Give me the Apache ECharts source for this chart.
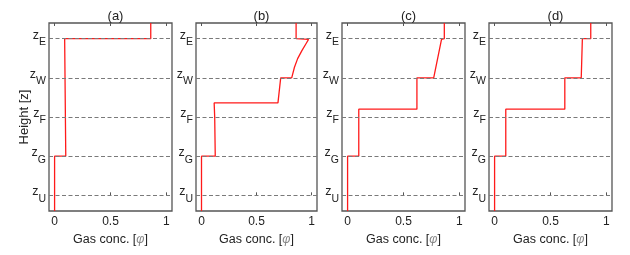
<!DOCTYPE html>
<html><head><meta charset="utf-8">
<script src="https://cdn.jsdelivr.net/npm/echarts@6/dist/echarts.min.js"></script>
<style>html,body{margin:0;padding:0;background:#fff}#c{width:630px;height:255px}</style>
</head><body><div id="c"></div>
<script>
const levelLabels = ['U','G','F','W','E'];
const levelValues = [0,1,2,3,4];
const panelTitles = ['(a)','(b)','(c)','(d)'];
const xTicks = [0,0.5,1];
const profileA = [[0,-0.4],[0,1],[0.1,1],[0.09,4],[0.86,4],[0.86,4.4]];
const profileB = [[0,-0.4],[0,1],[0.125,1],[0.12,2],[0.115,2.36],[0.695,2.36],[0.72,3],[0.82,3],[0.845,3.27],[0.874,3.49],[0.914,3.70],[0.95,3.87],[0.973,3.98],[0.975,4],[0.86,4],[0.86,4.4]];
const profileC = [[0,-0.4],[0,1],[0.1,1],[0.1,2.2],[0.62,2.2],[0.62,3],[0.77,3],[0.84,3.98],[0.865,4],[0.865,4.4]];
const profileD = [[0,-0.4],[0,1],[0.1,1],[0.1,2.2],[0.628,2.2],[0.628,3],[0.775,3],[0.785,4],[0.86,4],[0.86,4.4]];
const profiles = [profileA, profileB, profileC, profileD];

const gridLefts = [49, 196, 342, 489];
const gridWidths = [123, 121, 123, 123];
const FONT = 'Liberation Sans';

const chart = echarts.init(document.getElementById('c'));
const grids = [], xAxes = [], yAxes = [], series = [], titles = [];
profiles.forEach((p, i) => {
  grids.push({left: gridLefts[i], width: gridWidths[i], top: 23, height: 188,
    show: true, borderColor: '#555', borderWidth: 1.3, containLabel: false});
  const xBase = {gridIndex: i, type: 'value', min: -0.05, max: 1.05,
    axisLine: {show: false}, splitLine: {show: false},
    axisTick: {show: true, inside: true, length: 3, lineStyle: {color: '#555'}, customValues: xTicks}};
  xAxes.push(Object.assign({}, xBase, {position: 'bottom',
    axisLabel: {show: true, customValues: xTicks, margin: 5, color: '#222', fontFamily: FONT, fontSize: 12,
      formatter: v => String(Math.round(v*10)/10)},
    name: '{a|Gas conc. [}{b|φ}{a|]}', nameLocation: 'middle', nameGap: 20,
    nameTextStyle: {rich: {a: {fontFamily: FONT, fontSize: 12.5, color: '#222'}, b: {fontFamily: FONT, fontSize: 12.5, color: '#888', fontStyle: 'italic'}}}}));
  xAxes.push(Object.assign({}, xBase, {position: 'top', axisLabel: {show: false}}));
  yAxes.push({gridIndex: i, type: 'value', min: -0.4, max: 4.4,
    axisLine: {show: false}, splitLine: {show: false}, axisTick: {show: false, customValues: levelValues},
    axisLabel: {show: true, customValues: levelValues, margin: 3,
      formatter: v => '{z|z}{s|' + levelLabels[levelValues.indexOf(v)] + '}',
      rich: {z: {fontFamily: FONT, fontSize: 12.5, color: '#222', padding: [0,0,7,0]},
             s: {fontFamily: FONT, fontSize: 10.5, color: '#222', padding: [7,0,0,0]}}},
    name: i === 0 ? 'Height [z]' : '', nameLocation: 'middle', nameGap: 18, nameRotate: 90,
    nameMoveOverlap: false,
    nameTextStyle: {fontFamily: FONT, fontSize: 13, color: '#222'}});
  series.push({type: 'line', xAxisIndex: 2*i, yAxisIndex: i, data: p, showSymbol: false, symbol: 'none',
    lineStyle: {color: '#ff1a1a', width: 1.3}, z: 3,
    markLine: {silent: true, symbol: 'none', label: {show: false},
      lineStyle: {color: '#7a7a7a', type: [4,2.5], width: 1.1},
      data: levelValues.map(v => ({yAxis: v}))}});
  titles.push({text: panelTitles[i], left: gridLefts[i] + gridWidths[i]/2, top: 5, textAlign: 'center',
    textStyle: {fontFamily: FONT, fontSize: 13, fontWeight: 'normal', color: '#222'}});
});
chart.setOption({animation: false, title: titles, grid: grids, xAxis: xAxes, yAxis: yAxes, series: series});
</script></body></html>
